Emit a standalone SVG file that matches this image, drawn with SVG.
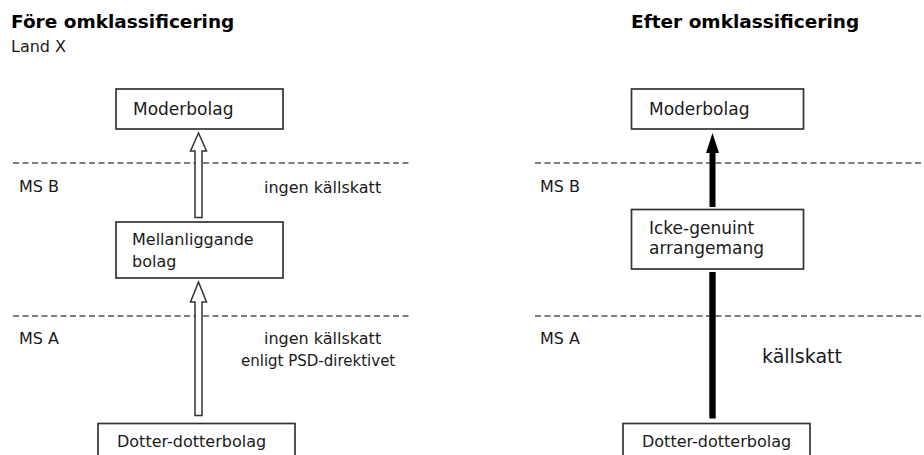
<svg xmlns="http://www.w3.org/2000/svg" width="924" height="455" viewBox="0 0 924 455">
<style>
text{font-family:"DejaVu Sans","Liberation Sans",sans-serif;fill:#1a1a1a;font-size:16px}
.title{font-weight:bold;font-size:18.5px;fill:#000}
.big{font-size:17px}
.box{fill:#fff;stroke:#333;stroke-width:1.7}
.dash{stroke:#555;stroke-width:1.3;stroke-dasharray:6 3.5;fill:none}
.hollow{fill:#fff;stroke:#333;stroke-width:1.5;stroke-linejoin:miter}
.solid{fill:#000;stroke:none}
</style>
<rect width="924" height="455" fill="#fff"/>
<text class="title" x="11" y="28">Före omklassificering</text>
<text x="11" y="52">Land X</text>
<text class="title" x="631" y="28">Efter omklassificering</text>
<g id="zones">
<line class="dash" x1="13" y1="163" x2="410" y2="163"/>
<line class="dash" x1="13" y1="316" x2="410" y2="316"/>
<line class="dash" x1="535" y1="163" x2="924" y2="163"/>
<line class="dash" x1="535" y1="316" x2="924" y2="316"/>
<text x="19" y="192">MS B</text>
<text x="19" y="344">MS A</text>
<text x="540" y="192">MS B</text>
<text x="540" y="344">MS A</text>
</g>
<g id="connectors">
<polygon class="hollow" points="198.5,133 206.5,151 202,151 202,217.5 195,217.5 195,151 190.5,151"/>
<polygon class="hollow" points="198.5,282 206.5,302 202,302 202,415.5 195,415.5 195,302 190.5,302"/>
<polygon class="solid" points="712.5,133 719,153 715.5,153 715.5,207 709.5,207 709.5,153 706,153"/>
<rect class="solid" x="709.3" y="272" width="6.4" height="146.5"/>
<text x="264" y="193">ingen källskatt</text>
<text x="264" y="344">ingen källskatt</text>
<text x="241" y="366" style="font-size:15px">enligt PSD-direktivet</text>
<text x="762" y="363" style="font-size:19px">källskatt</text>
</g>
<g id="moderbolag-fore">
<rect class="box" x="116" y="89" width="167" height="40"/>
<text class="big" x="133" y="115">Moderbolag</text>
</g>
<g id="mellanliggande">
<rect class="box" x="116" y="222" width="167" height="56"/>
<text x="132" y="245">Mellanliggande</text>
<text x="132" y="267">bolag</text>
</g>
<g id="dotter-fore">
<rect class="box" x="98" y="423.5" width="197" height="40"/>
<text x="117" y="447">Dotter-dotterbolag</text>
</g>
<g id="moderbolag-efter">
<rect class="box" x="631.5" y="89" width="172" height="40"/>
<text class="big" x="649" y="115">Moderbolag</text>
</g>
<g id="icke-genuint">
<rect class="box" x="631.5" y="209.5" width="172" height="59.5"/>
<text class="big" x="649" y="234">Icke-genuint</text>
<text class="big" x="649" y="254">arrangemang</text>
</g>
<g id="dotter-efter">
<rect class="box" x="623" y="423.5" width="187" height="40"/>
<text x="642" y="447">Dotter-dotterbolag</text>
</g>
</svg>
